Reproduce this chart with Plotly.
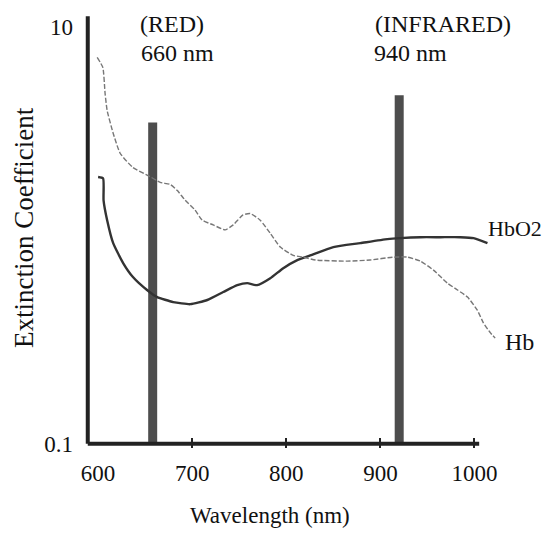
import plotly.graph_objects as go

# ---- data ----
hb_wl = [599, 605, 607.4, 609.6, 616, 623.4, 637, 655, 666, 676.6, 684, 692.6, 703, 710.6,
         722.3, 735, 743.6, 754, 761.7, 772.3, 783, 793.6, 807.4, 818, 831, 865, 889, 914,
         928.7, 942.6, 956.4, 971.3, 982, 992.6, 1003, 1009.6, 1017, 1022]
hb_val = [7.11, 6.37, 4.78, 3.96, 3.08, 2.47, 2.11, 1.91, 1.79, 1.75, 1.64, 1.47, 1.32, 1.18,
          1.12, 1.06, 1.12, 1.25, 1.27, 1.18, 1.02, 0.877, 0.80, 0.785, 0.76, 0.751, 0.76, 0.785,
          0.785, 0.751, 0.68, 0.589, 0.546, 0.505, 0.437, 0.379, 0.34, 0.321]

hbo2_wl = [600, 605.3, 605.8, 609.6, 616, 626.6, 637, 652, 662.8, 679.8, 697.9, 716, 733,
           747.9, 758.5, 769, 783, 796.8, 811.7, 825.5, 850, 878.7, 907.4, 921, 942.6,
           963.8, 985, 999, 1013.8]
hbo2_val = [1.90, 1.87, 1.47, 1.18, 0.916, 0.735, 0.63, 0.546, 0.505, 0.478, 0.467, 0.489,
            0.534, 0.576, 0.589, 0.576, 0.622, 0.695, 0.76, 0.80, 0.877, 0.916, 0.957, 0.968,
            0.978, 0.978, 0.978, 0.968, 0.916]

led_wl = [658, 920]          # marker bars (red / infrared)
led_top = [3.47, 4.68]

x_ticks = [600, 700, 800, 900, 1000]
x_minor = [700, 800, 900, 1000]
y_ticks = [0.1, 10]
y_ticktext = ["0.1", "10"]

axis_x0, axis_x1 = 589, 1005
axis_y0, axis_y1 = 0.1, 11.2

FONT = "Liberation Serif"
TXT = "#111111"

fig = go.Figure()

# LED bars
for wl, top in zip(led_wl, led_top):
    fig.add_trace(go.Scatter(x=[wl, wl], y=[axis_y0, top], mode="lines",
                             line=dict(color="#4d4d4d", width=9), hoverinfo="skip",
                             showlegend=False))

# curves
fig.add_trace(go.Scatter(x=hbo2_wl, y=hbo2_val, mode="lines", name="HbO2",
                         line=dict(color="#333333", width=2.4, shape="spline", smoothing=0.5),
                         showlegend=False))
fig.add_trace(go.Scatter(x=hb_wl, y=hb_val, mode="lines", name="Hb",
                         line=dict(color="#777777", width=1.4, dash="5px,2px",
                                   shape="spline", smoothing=0.5),
                         showlegend=False))

# axis lines
fig.add_trace(go.Scatter(x=[axis_x0, axis_x0], y=[axis_y0, axis_y1], mode="lines",
                         line=dict(color="#222222", width=4), hoverinfo="skip", showlegend=False))
fig.add_trace(go.Scatter(x=[axis_x0, axis_x1], y=[axis_y0, axis_y0], mode="lines",
                         line=dict(color="#222222", width=4), hoverinfo="skip", showlegend=False))

annos = [
    dict(text="(RED)", x=0.130, y=0.977, size=24),
    dict(text="660 nm", x=0.133, y=0.910, size=24),
    dict(text="(INFRARED)", x=0.698, y=0.977, size=24),
    dict(text="940 nm", x=0.696, y=0.910, size=24),
    dict(text="HbO2", x=0.970, y=0.505, size=22),
    dict(text="Hb", x=1.012, y=0.244, size=24),
]
for a in annos:
    fig.add_annotation(text=a["text"], x=a["x"], y=a["y"], xref="paper", yref="paper",
                       xanchor="left", yanchor="middle", showarrow=False,
                       font=dict(family=FONT, size=a["size"], color=TXT))

fig.add_annotation(text="Wavelength (nm)", x=(270 - 84) / 414, y=(448 - 515) / 434,
                   xref="paper", yref="paper", xanchor="center", yanchor="middle",
                   showarrow=False, font=dict(family=FONT, size=23, color=TXT))
fig.add_annotation(text="Extinction Coefficient", x=(24 - 84) / 414, y=(448 - 228) / 434,
                   xref="paper", yref="paper", xanchor="center", yanchor="middle",
                   textangle=-90, showarrow=False, font=dict(family=FONT, size=27, color=TXT))

# page body has an 8px margin: figure is sized/offset so the plot lands where the reference has it
fig.update_layout(
    width=543, height=532,
    margin=dict(l=76, r=53, t=6, b=92, pad=0),
    paper_bgcolor="white", plot_bgcolor="white",
    xaxis=dict(range=[585, 1025], showline=False, showgrid=False, zeroline=False,
               tickvals=x_ticks, ticks="", ticklabelstandoff=9,
               tickfont=dict(family=FONT, size=23, color=TXT),
               minor=dict(tickvals=x_minor, ticks="inside", ticklen=10, tickwidth=2,
                          tickcolor="#222222", showgrid=False)),
    yaxis=dict(type="log", range=[-1.02, 1.06], showline=False, showgrid=False,
               zeroline=False, tickvals=y_ticks, ticktext=y_ticktext, ticks="",
               ticklabelstandoff=10, tickfont=dict(family=FONT, size=23, color=TXT)),
)

fig.write_html("out.html")
